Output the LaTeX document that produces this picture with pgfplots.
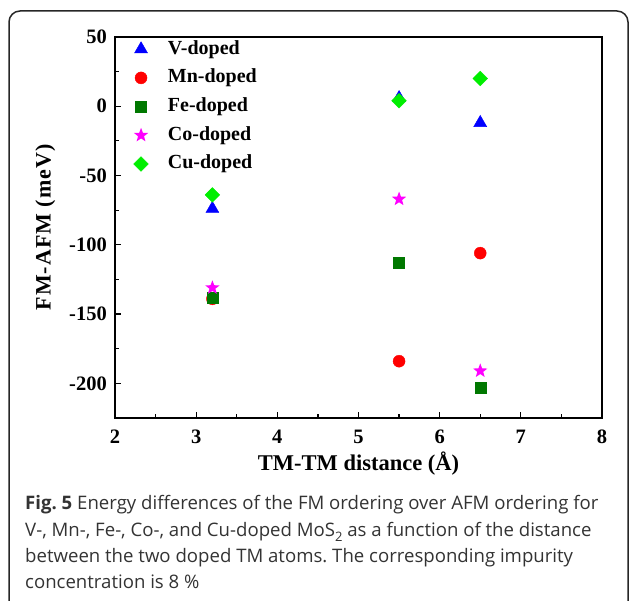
\documentclass[border=0pt]{standalone}
\usepackage{pgfplots}
\pgfplotsset{compat=1.18}
\usepackage{fontspec}
\setmainfont{Liberation Serif}
\newfontfamily\capfont{Open Sans}
\newfontfamily\ylabfont[LetterSpace=4.5]{Liberation Serif}
\definecolor{vblue}{RGB}{0,0,255}
\definecolor{mnred}{RGB}{255,0,0}
\definecolor{fegreen}{RGB}{0,120,0}
\definecolor{comag}{RGB}{255,0,255}
\definecolor{cugreen}{RGB}{0,238,0}
\pgfdeclareplotmark{fstar}{%
  \pgfpathmoveto{\pgfqpointpolar{90}{\pgfplotmarksize}}%
  \pgfpathlineto{\pgfqpointpolar{126}{0.42\pgfplotmarksize}}%
  \pgfpathlineto{\pgfqpointpolar{162}{\pgfplotmarksize}}%
  \pgfpathlineto{\pgfqpointpolar{198}{0.42\pgfplotmarksize}}%
  \pgfpathlineto{\pgfqpointpolar{234}{\pgfplotmarksize}}%
  \pgfpathlineto{\pgfqpointpolar{270}{0.42\pgfplotmarksize}}%
  \pgfpathlineto{\pgfqpointpolar{306}{\pgfplotmarksize}}%
  \pgfpathlineto{\pgfqpointpolar{342}{0.42\pgfplotmarksize}}%
  \pgfpathlineto{\pgfqpointpolar{18}{\pgfplotmarksize}}%
  \pgfpathlineto{\pgfqpointpolar{54}{0.42\pgfplotmarksize}}%
  \pgfpathclose\pgfusepathqfill}
\frenchspacing
\begin{document}
\begin{tikzpicture}[x=1pt,y=1pt]
\useasboundingbox (0,0) rectangle (630,601);
\begin{scope}
\clip (0,0) rectangle (630,601);
\draw[line width=1.5pt,color=black!85,rounded corners=11pt] (9,-12) rectangle (628,590);
\end{scope}
\begin{axis}[
  at={(115pt,183pt)}, anchor=south west,
  scale only axis, width=487pt, height=381pt,
  xmin=2, xmax=8, ymin=-225, ymax=50,
  xtick={2,3,4,5,6,7,8},
  ytick={-200,-150,-100,-50,0,50},
  yticklabels={-200,-150,-100,-50,0,50},
  xticklabels={2,3,4,5,6,7,8},
  minor x tick num=1, minor y tick num=1,
  xtick pos=bottom, ytick pos=left,
  tick align=inside,
  major tick length=6pt, minor tick length=4pt,
  axis line style={line width=1.3pt},
  every tick/.style={line width=1.2pt,black},
  ticklabel style={font=\bfseries\fontsize{20.5}{20.5}\selectfont, inner sep=0pt},
  xticklabel style={anchor=center, yshift=-19pt},
  yticklabel style={anchor=east, xshift=-8pt},
  xlabel={TM-TM distance (Å)},
  ylabel={FM-AFM (meV)},
  xlabel style={font=\bfseries\fontsize{22.5}{22.5}\selectfont, at={(axis description cs:0.5,-0.12)}, anchor=center},
  ylabel style={font=\ylabfont\bfseries\fontsize{22}{22}\selectfont, at={(axis description cs:-0.143,0.5)}, anchor=center},
  legend style={at={(rel axis cs:0,1)}, anchor=north west, xshift=18.5pt, yshift=-3pt,
    draw=none, fill=none, inner sep=0pt, row sep=10.7pt,
    font=\bfseries\fontsize{20}{20}\selectfont,
    nodes={inner sep=0pt, text height=14pt, text depth=4pt},
    /tikz/every odd column/.append style={column sep=19.5pt}},
  legend cell align=left,
  only marks,
  clip=false,
]
\addplot[vblue, mark=triangle*, mark size=7.5pt, mark options={draw=none, fill=vblue}]
  coordinates {(3.2,-74) (5.5,6) (6.5,-12)};
\addlegendentry{V-doped}
\addplot[mnred, mark=*, mark size=6pt, mark options={draw=none, fill=mnred}]
  coordinates {(3.2,-139) (5.5,-184) (6.5,-106)};
\addlegendentry{Mn-doped}
\addplot[fegreen, mark=square*, mark size=5.5pt, mark options={draw=none, fill=fegreen}]
  coordinates {(3.2,-138) (5.5,-113) (6.5,-203)};
\addlegendentry{Fe-doped}
\addplot[comag, mark=fstar, mark size=7.5pt, mark options={draw=none, fill=comag}]
  coordinates {(3.2,-131) (5.5,-67) (6.5,-191)};
\addlegendentry{Co-doped}
\addplot[cugreen, mark=square*, mark size=5.2pt, mark options={draw=none, fill=cugreen, rotate=45}]
  coordinates {(3.2,-64) (5.5,4) (6.5,20)};
\addlegendentry{Cu-doped}
\end{axis}
\begin{scope}[every node/.style={anchor=base west, inner sep=0pt, font=\capfont\fontsize{18.6}{18.6}\selectfont, color=black!80}]
\node at (25,91) {\textbf{Fig. 5} Energy differences of the FM ordering over AFM ordering for};
\node at (25,64) {V-, Mn-, Fe-, Co-, and Cu-doped MoS\raisebox{-0.25em}{\fontsize{13}{13}\selectfont 2} as a function of the distance};
\node at (25,38) {between the two doped TM atoms. The corresponding impurity};
\node at (25,12) {concentration is 8 \%};
\end{scope}
\end{tikzpicture}
\end{document}
